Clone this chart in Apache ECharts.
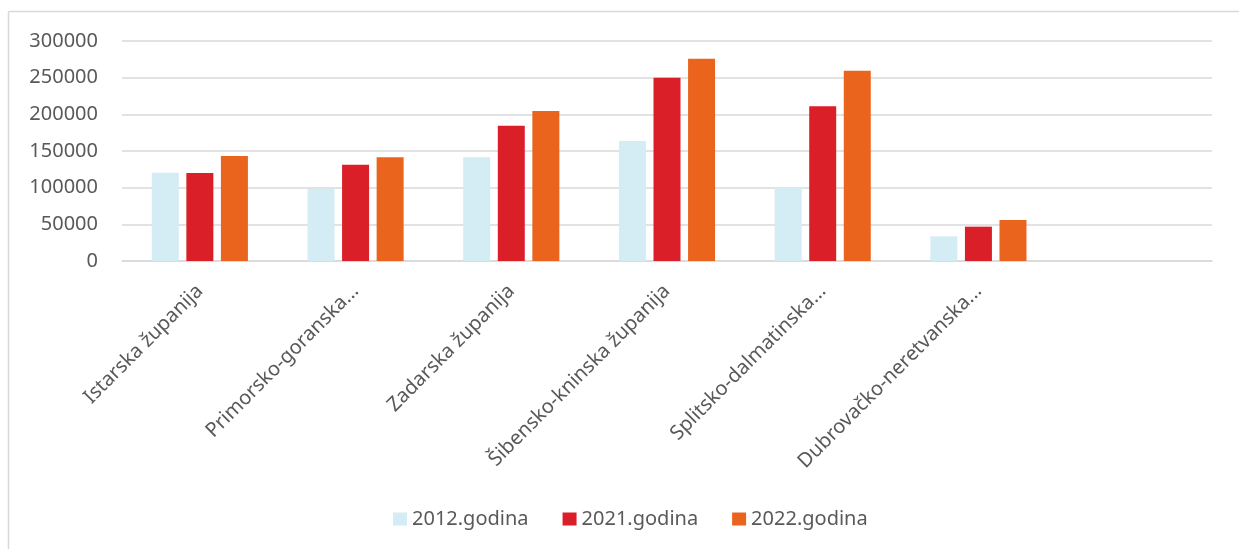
<!DOCTYPE html>
<html>
<head>
<meta charset="utf-8">
<script src="https://cdn.jsdelivr.net/npm/echarts@6/dist/echarts.min.js"></script>
<style>
html,body{margin:0;padding:0;background:#fff;}
#chart{width:1239px;height:549px;}
</style>
</head>
<body>
<div id="chart"></div>
<script>
const categories = ['Istarska županija', 'Primorsko-goranska...', 'Zadarska županija', 'Šibensko-kninska županija', 'Splitsko-dalmatinska...', 'Dubrovačko-neretvanska...', ''];
const seriesNames = ['2012.godina', '2021.godina', '2022.godina'];
const values2012 = [120500, 98600, 141400, 163600, 100500, 33600, null];
const values2021 = [120000, 131400, 184500, 250000, 210900, 46800, null];
const values2022 = [143200, 141400, 204500, 275900, 259600, 55900, null];
const yTicks = {min: 0, max: 300000, interval: 50000};

const colors = ['#d4ecf3', '#da1f29', '#ea641e'];
const font = "'Noto Sans', 'Open Sans', sans-serif";
const textColor = '#595959';

const chart = echarts.init(document.getElementById('chart'), null, {renderer: 'canvas'});
const seriesData = [values2012, values2021, values2022];
chart.setOption({
  animation: false,
  color: colors,
  grid: {left: 122, right: 27, top: 41, bottom: 288, containLabel: false},
  legend: {
    data: seriesNames,
    left: 388, top: 504,
    itemWidth: 14, itemHeight: 13, itemGap: 34,
    icon: 'rect',
    textStyle: {fontFamily: font, fontSize: 20, color: textColor, width: 118}
  },
  xAxis: {
    type: 'category',
    data: categories,
    axisLine: {show: true, lineStyle: {color: '#d9d9d9', width: 1.5}},
    axisTick: {show: false},
    axisLabel: {rotate: 45, interval: 0, margin: 27, fontFamily: font, fontSize: 20, color: textColor}
  },
  yAxis: {
    type: 'value',
    min: yTicks.min, max: yTicks.max, interval: yTicks.interval,
    axisLine: {show: false},
    axisTick: {show: false},
    splitLine: {lineStyle: {color: '#d9d9d9', width: 1.5}},
    axisLabel: {margin: 24, fontFamily: font, fontSize: 20, color: textColor, formatter: v => String(v)}
  },
  graphic: [
    {type: 'line', shape: {x1: 8.5, y1: 11.5, x2: 1239, y2: 11.5}, style: {stroke: '#d9d9d9', lineWidth: 1.5}},
    {type: 'line', shape: {x1: 8.5, y1: 11.5, x2: 8.5, y2: 549}, style: {stroke: '#d9d9d9', lineWidth: 1.5}}
  ],
  series: seriesNames.map((n, i) => ({
    name: n,
    type: 'bar',
    data: seriesData[i],
    barWidth: 27,
    barGap: '28%',
    itemStyle: {color: colors[i]}
  }))
});
</script>
</body>
</html>
